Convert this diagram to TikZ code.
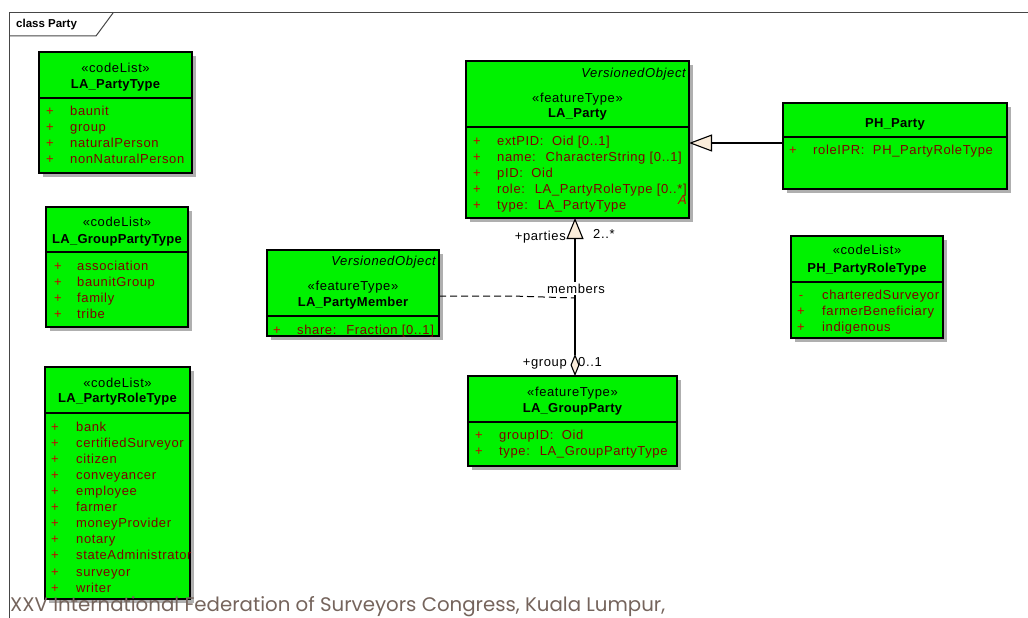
\documentclass[tikz,border=0pt]{standalone}
\usepackage{fontspec}
\setmainfont{Liberation Sans}
\newfontfamily\umlf{Liberation Sans}[LetterSpace=4.8]
\newfontfamily\umlb{Liberation Sans}[LetterSpace=2]
\newfontfamily\footf{Poppins}
\usetikzlibrary{arrows.meta}
\definecolor{boxgreen}{RGB}{0,242,0}
\definecolor{attrred}{RGB}{128,0,0}
\definecolor{plusred}{RGB}{200,0,0}
\definecolor{shadegray}{RGB}{175,175,175}
\definecolor{cream}{RGB}{250,236,218}
\definecolor{footc}{RGB}{117,100,92}
\definecolor{framec}{RGB}{70,70,70}
\newcommand{\umlBox}[6]{%
  \fill[shadegray] (#2+4,#3+4) rectangle (#4+4,#5+4);
  \node[umlbox, minimum width={#4-#2}, minimum height={#5-#3}] (#1) at (#2,#3) {};
  \draw[line width=1.2pt] (#2,#6) -- (#4,#6);
}
\begin{document}
\begin{tikzpicture}[x=1pt,y=-1pt,
  umlbox/.style={draw=black, line width=1.2pt, fill=boxgreen, inner sep=0pt, outer sep=0pt, anchor=north west},
  txt/.style={inner sep=0pt, yshift=-2.5pt, font=\umlf\fontsize{13}{15}\selectfont},
  attr/.style={txt, text=attrred, anchor=mid west},
  vis/.style={txt, text=plusred, anchor=mid},
  stereo/.style={txt, anchor=mid},
  cname/.style={inner sep=0pt, yshift=-2.5pt, font=\umlb\bfseries\fontsize{13}{15}\selectfont, anchor=mid},
  vobj/.style={inner sep=0pt, yshift=-2.5pt, font=\umlf\itshape\fontsize{13}{15}\selectfont, anchor=mid east},
  lbl/.style={txt, text=black},
  conn/.style={draw=black, line width=1.1pt}
]
\useasboundingbox (0,0) rectangle (1028,618);
% frame
\draw[framec, line width=1pt] (9,618) -- (9,13) -- (1028,13);
\draw[framec, line width=1pt] (9,36) -- (96,36) -- (113,13);
\node[inner sep=0pt, yshift=-1pt, font=\bfseries\fontsize{11.5}{13}\selectfont, anchor=mid west] (title) at (16,24) {class Party};

% LA_PartyType
\umlBox{lapt}{39}{52}{192}{173}{98}
\node[stereo] (laptst) at (115.5,67) {«codeList»};
\node[cname] (laptn) at (115.5,83) {LA\_PartyType};
\foreach \t [count=\i] in {baunit,group,naturalPerson,nonNaturalPerson}{
  \node[vis] (laptp\i) at (50,{110+16*(\i-1)}) {+};
  \node[attr] (lapta\i) at (70,{110+16*(\i-1)}) {\t};
}

% LA_GroupPartyType
\umlBox{lagpt}{46}{207}{188}{327}{252}
\node[stereo] (lagptst) at (117,221) {«codeList»};
\node[cname] (lagptn) at (117,238) {LA\_GroupPartyType};
\foreach \t [count=\i] in {association,baunitGroup,family,tribe}{
  \node[vis] (lagptp\i) at (58,{265+16*(\i-1)}) {+};
  \node[attr] (lagpta\i) at (77,{265+16*(\i-1)}) {\t};
}

% LA_PartyRoleType
\umlBox{laprt}{45}{367}{190}{599}{413}
\node[stereo] (laprtst) at (117.5,382) {«codeList»};
\node[cname] (laprtn) at (117.5,397) {LA\_PartyRoleType};
\foreach \t [count=\i] in {bank,certifiedSurveyor,citizen,conveyancer,employee,farmer,moneyProvider,notary,stateAdministrator,surveyor,writer}{
  \node[vis] (laprtp\i) at (55,{426+16.1*(\i-1)}) {+};
  \node[attr] (laprta\i) at (76,{426+16.1*(\i-1)}) {\t};
}

% LA_Party
\umlBox{party}{466}{61}{689}{218}{127}
\node[vobj] (partyvo) at (686,72) {VersionedObject};
\node[stereo] (partyst) at (577.5,97) {«featureType»};
\node[cname] (partyn) at (577.5,112) {LA\_Party};
\foreach \t [count=\i] in {{extPID:~ Oid [0..1]},{name:~ CharacterString [0..1]},{pID:~ Oid},{role:~ LA\_PartyRoleType [0..*]},{type:~ LA\_PartyType}}{
  \node[vis] (partyp\i) at (477,{140+16*(\i-1)}) {+};
  \node[attr] (partya\i) at (497,{140+16*(\i-1)}) {\t};
}
\node[inner sep=0pt, yshift=-2.5pt, font=\umlf\itshape\fontsize{13}{15}\selectfont, text=plusred, anchor=mid east] (partyabs) at (687,199) {A};

% PH_Party
\umlBox{ph}{783}{103}{1007}{189}{137}
\node[cname] (phn) at (895,122) {PH\_Party};
\node[vis] (php1) at (793,149) {+};
\node[attr] (pha1) at (813,149) {roleIPR:~ PH\_PartyRoleType};

% LA_PartyMember
\umlBox{member}{267}{250}{439}{336}{316}
\node[vobj] (membervo) at (436,260) {VersionedObject};
\node[stereo] (memberst) at (353,285) {«featureType»};
\node[cname] (membern) at (353,301) {LA\_PartyMember};
\node[vis] (memberp1) at (277,329) {+};
\node[attr] (membera1) at (297,329) {share:~ Fraction [0..1]};

% LA_GroupParty
\umlBox{grp}{468}{376}{677}{466}{422}
\node[stereo] (grpst) at (572.5,391) {«featureType»};
\node[cname] (grpn) at (572.5,407) {LA\_GroupParty};
\foreach \t [count=\i] in {{groupID:~ Oid},{type:~ LA\_GroupPartyType}}{
  \node[vis] (grpp\i) at (479,{434+16*(\i-1)}) {+};
  \node[attr] (grpa\i) at (499,{434+16*(\i-1)}) {\t};
}

% PH_PartyRoleType
\umlBox{phrt}{791}{236}{943}{338}{282}
\node[stereo] (phrtst) at (867,249) {«codeList»};
\node[cname] (phrtn) at (867,267) {PH\_PartyRoleType};
\node[vis] (phrtp1) at (801,294) {-};
\node[attr] (phrta1) at (822,294) {charteredSurveyor};
\node[vis] (phrtp2) at (801,310) {+};
\node[attr] (phrta2) at (822,310) {farmerBeneficiary};
\node[vis] (phrtp3) at (801,326) {+};
\node[attr] (phrta3) at (822,326) {indigenous};

% generalization PH_Party -> LA_Party
\draw[conn, -{Triangle[fill=cream, length=23pt, width=17pt]}]
  ([yshift=3pt]ph.west) -- ([yshift=3pt]ph.west -| party.east);

% association LA_Party -- LA_GroupParty
\draw[conn, {Triangle[fill=cream, length=21pt, width=17pt]}-{Diamond[fill=cream, length=22pt, width=9pt]}]
  ([xshift=-2.5pt]party.south) -- ([xshift=2.5pt]grp.north);
\coordinate (assocpt) at (575,298);
\draw[line width=1pt, dash pattern=on 7pt off 4pt] ([yshift=-3pt]member.east) -- (512,296) -- (assocpt);
\node[lbl, fill=white, inner sep=1.5pt, anchor=mid] (membl) at (576,288) {members};
\node[lbl, anchor=mid east] (partiesl) at (566,235) {+parties};
\node[lbl, anchor=mid west] (partiesm) at (593,233) {2..*};
\node[lbl, anchor=mid east] (groupl) at (567,361) {+group};
\node[lbl, anchor=mid west] (groupm) at (578,361) {0..1};

% footer
\node[anchor=base west, inner sep=0pt, text=footc] (foot) at (10,611)
  {\resizebox{655pt}{15pt}{\footf XXV International Federation of Surveyors Congress, Kuala Lumpur,}};
\end{tikzpicture}
\end{document}
